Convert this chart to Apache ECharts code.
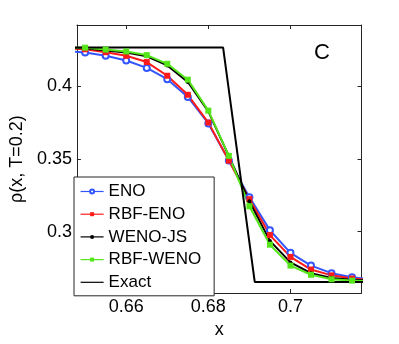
<!DOCTYPE html>
<html>
<head>
<meta charset="utf-8">
<script src="https://cdn.jsdelivr.net/npm/echarts@6/dist/echarts.min.js"></script>
<style>
  html, body { margin: 0; padding: 0; background: #fff; }
  #chart { width: 399px; height: 344px; }
</style>
</head>
<body>
<div id="chart"></div>
<script>
// grid points (the first and last lie just outside the visible range)
const xs = [0.645, 0.65, 0.655, 0.66, 0.665, 0.67, 0.675, 0.68, 0.685, 0.69, 0.695, 0.70, 0.705, 0.71, 0.715, 0.72];
const eno = [0.4242, 0.4233, 0.4211, 0.4178, 0.4127, 0.4049, 0.3927, 0.3745, 0.3490, 0.3238, 0.3010, 0.2855, 0.2767, 0.2715, 0.2687, 0.2672];
const rbfEno = [0.4262, 0.4255, 0.4235, 0.4210, 0.4167, 0.4073, 0.3942, 0.3751, 0.3489, 0.3224, 0.2977, 0.2827, 0.2740, 0.2700, 0.2678, 0.2667];
const wenoJs = [0.4267, 0.4262, 0.4246, 0.4233, 0.4207, 0.4144, 0.4030, 0.3828, 0.3520, 0.3209, 0.2937, 0.2789, 0.2715, 0.2682, 0.2670, 0.2662];
const rbfWeno = [0.4268, 0.4266, 0.4253, 0.4240, 0.4215, 0.4155, 0.4046, 0.3833, 0.3522, 0.3175, 0.2911, 0.2767, 0.2704, 0.2673, 0.2664, 0.2660];
const exactX = [0.645, 0.6836, 0.6913, 0.72];
const exactY = [0.4267, 0.4267, 0.2655, 0.2655];
const xTicks = [0.66, 0.68, 0.70];
const yTicks = [0.3, 0.35, 0.4];

const pairs = (x, y) => x.map((v, i) => [v, y[i]]);
const font = "Liberation Sans, Arial, Helvetica, sans-serif";
const frame = "#262626";

const chart = echarts.init(document.getElementById("chart"));

const xBase = {
  type: "value",
  min: 0.648,
  max: 0.7173,
  splitLine: { show: false },
  axisLine: { onZero: false, lineStyle: { color: frame, width: 1 } },
  axisTick: { inside: true, length: 4, customValues: xTicks, lineStyle: { color: frame } }
};
const yBase = {
  type: "value",
  min: 0.2578,
  max: 0.4422,
  splitLine: { show: false },
  axisLine: { onZero: false, lineStyle: { color: frame, width: 1 } },
  axisTick: { inside: true, length: 4, customValues: yTicks, lineStyle: { color: frame } }
};

const option = {
  animation: false,
  textStyle: { fontFamily: font },
  grid: { left: 67, right: 37.5, top: 25, bottom: 42.3 },
  xAxis: [
    Object.assign({}, xBase, {
      position: "bottom",
      name: "x",
      nameLocation: "middle",
      nameGap: 22,
      nameTextStyle: { fontSize: 18, color: "#000", fontFamily: font },
      axisLabel: { customValues: xTicks, fontSize: 18, color: "#000", margin: 5, fontFamily: font }
    }),
    Object.assign({}, xBase, { position: "top", axisLabel: { show: false } })
  ],
  yAxis: [
    Object.assign({}, yBase, {
      position: "left",
      name: "ρ(x, T=0.2)",
      nameLocation: "middle",
      nameGap: 42,
      nameTextStyle: { fontSize: 18, color: "#000", fontFamily: font },
      axisLabel: { customValues: yTicks, fontSize: 18, color: "#000", margin: 5, fontFamily: font }
    }),
    Object.assign({}, yBase, { position: "right", axisLabel: { show: false } })
  ],
  legend: {
    orient: "vertical",
    left: 74,
    top: 177,
    padding: [5, 13, 4, 6],
    itemGap: 3.7,
    itemWidth: 23,
    itemHeight: 5,
    backgroundColor: "#fff",
    borderColor: frame,
    borderWidth: 1,
    lineStyle: { width: 1.2 },
    textStyle: { fontSize: 17, color: "#000", lineHeight: 19, fontFamily: font },
    data: [
      "ENO",
      "RBF-ENO",
      "WENO-JS",
      "RBF-WENO",
      { name: "Exact", icon: "path://M0,0L23,0L23,1.2L0,1.2Z" }
    ]
  },
  graphic: [
    {
      type: "text",
      left: 314,
      top: 42,
      style: { text: "C", fontSize: 22, fill: "#000", fontFamily: font }
    }
  ],
  series: [
    {
      name: "ENO",
      type: "line",
      data: pairs(xs, eno),
      color: "#3355ff",
      symbol: "emptyCircle",
      symbolSize: 6,
      lineStyle: { width: 2 },
      itemStyle: { borderWidth: 1.5 }
    },
    {
      name: "RBF-ENO",
      type: "line",
      data: pairs(xs, rbfEno),
      color: "#ff1a1a",
      symbol: "rect",
      symbolSize: 6,
      lineStyle: { width: 2 }
    },
    {
      name: "WENO-JS",
      type: "line",
      data: pairs(xs, wenoJs),
      color: "#000",
      symbol: "circle",
      symbolSize: 4,
      lineStyle: { width: 2 }
    },
    {
      name: "RBF-WENO",
      type: "line",
      data: pairs(xs, rbfWeno),
      color: "#55e61a",
      symbol: "rect",
      symbolSize: 6,
      lineStyle: { width: 2 }
    },
    {
      name: "Exact",
      type: "line",
      data: pairs(exactX, exactY),
      color: "#000",
      symbol: "none",
      lineStyle: { width: 2 }
    }
  ]
};

chart.setOption(option);
</script>
</body>
</html>
